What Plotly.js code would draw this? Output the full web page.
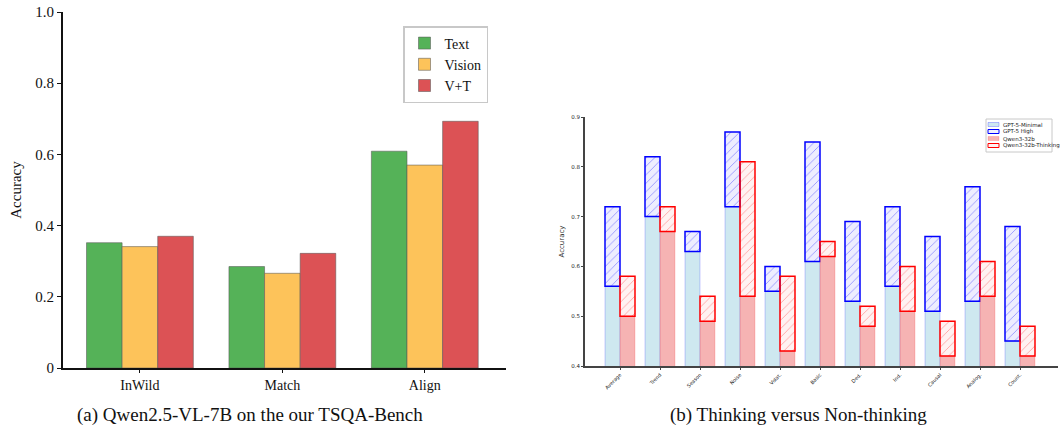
<!DOCTYPE html>
<html><head><meta charset="utf-8">
<script src="https://cdn.plot.ly/plotly-3.0.1.min.js"></script>
<style>html,body{margin:0;padding:0;background:#fff}#chart{width:1062px;height:429px}</style>
</head><body><div id="chart"></div>
<script>
// ---- Panel (a) data ----
const catsA = ['InWild', 'Match', 'Align'];
const seriesA = ['Text', 'Vision', 'V+T'];
const textAcc = [0.352, 0.285, 0.609];
const visionAcc = [0.341, 0.266, 0.570];
const vtAcc = [0.370, 0.322, 0.693];
const ticksA = [0, 0.2, 0.4, 0.6, 0.8, 1.0];
const tickTextA = ['0', '0.2', '0.4', '0.6', '0.8', '1.0'];

// ---- Panel (b) data ----
const catsB = ['Average', 'Trend', 'Season', 'Noise', 'Volat.', 'Basic', 'Ded.', 'Ind.', 'Causal', 'Analog.', 'Count.'];
const seriesB = ['GPT-5-Minimal', 'GPT-5 High', 'Qwen3-32b', 'Qwen3-32b-Thinking'];
const gptMinimal = [0.56, 0.70, 0.63, 0.72, 0.55, 0.61, 0.53, 0.56, 0.51, 0.53, 0.45];
const gptHigh = [0.72, 0.82, 0.67, 0.87, 0.60, 0.85, 0.69, 0.72, 0.66, 0.76, 0.68];
const qwen = [0.50, 0.67, 0.49, 0.54, 0.43, 0.62, 0.48, 0.51, 0.42, 0.54, 0.42];
const qwenThinking = [0.58, 0.72, 0.54, 0.81, 0.58, 0.65, 0.52, 0.60, 0.49, 0.61, 0.48];
const ticksB = [0.4, 0.5, 0.6, 0.7, 0.8, 0.9];

const W = 1062, H = 429;
const px = v => v / W;
const py = v => 1 - v / H;

const serif = 'Liberation Serif, Times New Roman, serif';
const sans = 'DejaVu Sans, sans-serif';

// styles for panel (b)
const stylesB = [
  {fill: 'rgba(173,216,230,0.6)', line: 'rgba(0,0,255,0.2)', lw: 1},
  {fill: 'rgba(0,0,255,0.06)', line: '#0000ff', lw: 1.5, hatch: 'rgba(0,0,255,0.45)'},
  {fill: 'rgba(240,128,128,0.6)', line: 'rgba(255,0,0,0.15)', lw: 1},
  {fill: 'rgba(255,0,0,0.05)', line: '#ff0000', lw: 1.5, hatch: 'rgba(255,0,0,0.4)'}
];

const edgeA = {color: 'rgba(90,90,90,0.55)', width: 1};
const traces = [
  {type: 'bar', name: seriesA[0], x: catsA, y: textAcc, width: 0.25, offset: -0.375,
   marker: {color: '#55b258', line: edgeA}, xaxis: 'x', yaxis: 'y', legend: 'legend'},
  {type: 'bar', name: seriesA[1], x: catsA, y: visionAcc, width: 0.25, offset: -0.125,
   marker: {color: '#fdc35a', line: edgeA}, xaxis: 'x', yaxis: 'y', legend: 'legend'},
  {type: 'bar', name: seriesA[2], x: catsA, y: vtAcc, width: 0.25, offset: 0.125,
   marker: {color: '#dc5255', line: edgeA}, xaxis: 'x', yaxis: 'y', legend: 'legend'},

  {type: 'bar', name: seriesB[0], x: catsB, y: gptMinimal, width: 0.375, offset: -0.375,
   marker: {color: stylesB[0].fill, line: {color: stylesB[0].line, width: stylesB[0].lw}},
   xaxis: 'x2', yaxis: 'y2', showlegend: false},
  {type: 'bar', name: seriesB[1], x: catsB, y: gptHigh.map((v, i) => v - gptMinimal[i]), base: gptMinimal,
   width: 0.375, offset: -0.375,
   marker: {color: stylesB[1].fill, line: {color: stylesB[1].line, width: stylesB[1].lw},
            pattern: {shape: '/', fgcolor: stylesB[1].hatch, bgcolor: 'rgba(0,0,255,0.07)', size: 6, solidity: 0.12}},
   xaxis: 'x2', yaxis: 'y2', showlegend: false},
  {type: 'bar', name: seriesB[2], x: catsB, y: qwen, width: 0.375, offset: 0,
   marker: {color: stylesB[2].fill, line: {color: stylesB[2].line, width: stylesB[2].lw}},
   xaxis: 'x2', yaxis: 'y2', showlegend: false},
  {type: 'bar', name: seriesB[3], x: catsB, y: qwenThinking.map((v, i) => v - qwen[i]), base: qwen,
   width: 0.375, offset: 0,
   marker: {color: stylesB[3].fill, line: {color: stylesB[3].line, width: stylesB[3].lw},
            pattern: {shape: '/', fgcolor: stylesB[3].hatch, bgcolor: 'rgba(255,0,0,0.05)', size: 6, solidity: 0.12}},
   xaxis: 'x2', yaxis: 'y2', showlegend: false}
];

// compact legend for panel (b), built from the series names
const shapes = [{type: 'rect', xref: 'paper', yref: 'paper',
  x0: px(986), x1: px(1052), y0: py(152), y1: py(119),
  line: {color: '#c8c8c8', width: 1}, fillcolor: '#fff', layer: 'above'}];
const annotations = [];
seriesB.forEach((name, i) => {
  const cy = 124.5 + i * 7;
  const s = stylesB[i];
  shapes.push({type: 'rect', xref: 'paper', yref: 'paper',
    x0: px(988), x1: px(999), y0: py(cy + 2), y1: py(cy - 2),
    line: {color: s.line === 'rgba(0,0,255,0.2)' ? 'rgba(0,0,255,0.25)' : s.line, width: 1},
    fillcolor: s.fill, layer: 'above'});
  annotations.push({text: name, xref: 'paper', yref: 'paper', x: px(1001), y: py(cy),
    xanchor: 'left', yanchor: 'middle', showarrow: false,
    font: {family: sans, size: 5.5, color: '#222'}});
});

annotations.push(
  {text: '(a) Qwen2.5-VL-7B on the our TSQA-Bench', xref: 'paper', yref: 'paper',
   x: px(250), y: py(415), xanchor: 'center', yanchor: 'middle', showarrow: false,
   font: {family: serif, size: 19, color: '#111'}},
  {text: '(b) Thinking versus Non-thinking', xref: 'paper', yref: 'paper',
   x: px(798), y: py(415), xanchor: 'center', yanchor: 'middle', showarrow: false,
   font: {family: serif, size: 19, color: '#111'}}
);

const layout = {
  width: W, height: H,
  margin: {l: 0, r: 0, t: 0, b: 0, autoexpand: false},
  paper_bgcolor: '#fff', plot_bgcolor: 'rgba(0,0,0,0)',
  barmode: 'overlay',
  showlegend: true,
  xaxis: {
    domain: [px(63), px(506)], range: [-0.54, 2.57], anchor: 'y',
    showgrid: false, zeroline: false, showline: true, linecolor: '#111', linewidth: 2,
    ticks: 'outside', ticklen: 3, tickwidth: 1, tickcolor: '#111',
    tickfont: {family: serif, size: 14, color: '#111'}
  },
  yaxis: {
    domain: [1 - 368 / H, 1 - 12 / H], range: [0, 1.0], anchor: 'x',
    showgrid: false, zeroline: false, showline: true, linecolor: '#111', linewidth: 2,
    ticks: 'outside', ticklen: 4, tickwidth: 1, tickcolor: '#111',
    tickvals: ticksA, ticktext: tickTextA,
    tickfont: {family: serif, size: 15, color: '#111'},
    title: {text: 'Accuracy', font: {family: serif, size: 15, color: '#111'}, standoff: 10}
  },
  xaxis2: {
    domain: [px(585), px(1058)], range: [-0.875, 10.95], anchor: 'y2',
    showgrid: false, zeroline: false, showline: true, linecolor: '#444', linewidth: 2,
    ticks: 'outside', ticklen: 2, tickwidth: 1, tickcolor: '#444',
    tickangle: -45, tickfont: {family: sans, size: 5, color: '#222'}
  },
  yaxis2: {
    domain: [1 - 366 / H, 1 - 117 / H], range: [0.4, 0.9], anchor: 'x2',
    showgrid: false, zeroline: false, showline: true, linecolor: '#444', linewidth: 2,
    ticks: 'outside', ticklen: 2, tickwidth: 1, tickcolor: '#444',
    tickvals: ticksB, tickformat: '.1f',
    tickfont: {family: sans, size: 5.5, color: '#222'},
    title: {text: 'Accuracy', font: {family: sans, size: 7, color: '#333'}, standoff: 6}
  },
  legend: {
    x: px(403), y: py(26), xanchor: 'left', yanchor: 'top',
    bgcolor: '#fff', bordercolor: '#c8c8c8', borderwidth: 1.5,
    font: {family: serif, size: 14, color: '#111'}, tracegroupgap: 0, itemwidth: 30
  },
  shapes: shapes,
  annotations: annotations
};

Plotly.newPlot('chart', traces, layout, {displayModeBar: false, staticPlot: true});
</script>
</body></html>
